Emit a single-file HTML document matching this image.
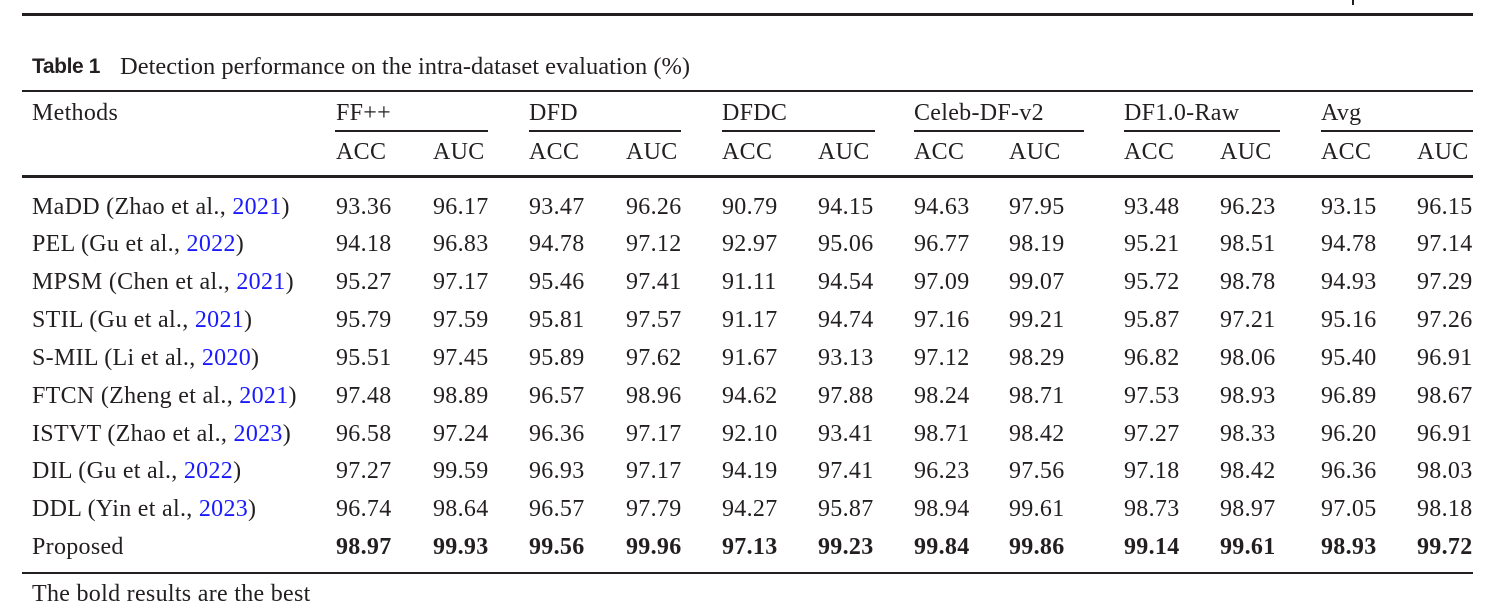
<!DOCTYPE html>
<html><head><meta charset="utf-8"><style>
html,body{margin:0;padding:0;background:#fff;}
body{width:1500px;height:610px;position:relative;overflow:hidden;font-family:"Liberation Serif",serif;color:#231f20;font-size:24px;}
.t{position:absolute;line-height:24px;white-space:nowrap;letter-spacing:0.3px;}
.r{position:absolute;background:#231f20;}
.b{font-weight:bold;}
a{color:#1a1aff;text-decoration:none;}
.cap{position:absolute;left:32px;top:55px;line-height:24px;white-space:nowrap;}
.cap b{position:absolute;left:0;top:0;font-family:"Liberation Sans",sans-serif;font-size:21px;letter-spacing:-0.4px;}
.cap span{position:absolute;left:88px;top:0;font-size:24.5px;}
</style></head><body>
<div class="r" style="left:22px;top:13px;width:1451px;height:3px"></div>
<div class="r" style="left:1352px;top:0;width:2px;height:5px"></div>
<div class="cap"><b>Table 1</b><span>Detection performance on the intra-dataset evaluation (%)</span></div>
<div class="r" style="left:22px;top:90px;width:1451px;height:1.5px"></div>
<div class="t" style="left:32px;top:101px">Methods</div>
<div class="t" style="left:336px;top:101px">FF++</div>
<div class="t" style="left:529px;top:101px">DFD</div>
<div class="t" style="left:722px;top:101px">DFDC</div>
<div class="t" style="left:914px;top:101px">Celeb-DF-v2</div>
<div class="t" style="left:1124px;top:101px">DF1.0-Raw</div>
<div class="t" style="left:1321px;top:101px">Avg</div>
<div class="r" style="left:335px;top:130px;width:153px;height:1.5px"></div>
<div class="r" style="left:529px;top:130px;width:152px;height:1.5px"></div>
<div class="r" style="left:722px;top:130px;width:153px;height:1.5px"></div>
<div class="r" style="left:914px;top:130px;width:170px;height:1.5px"></div>
<div class="r" style="left:1124px;top:130px;width:156px;height:1.5px"></div>
<div class="r" style="left:1321px;top:130px;width:152px;height:1.5px"></div>
<div class="t" style="left:336px;top:140px">ACC</div><div class="t" style="left:433px;top:140px">AUC</div>
<div class="t" style="left:529px;top:140px">ACC</div><div class="t" style="left:626px;top:140px">AUC</div>
<div class="t" style="left:722px;top:140px">ACC</div><div class="t" style="left:818px;top:140px">AUC</div>
<div class="t" style="left:914px;top:140px">ACC</div><div class="t" style="left:1009px;top:140px">AUC</div>
<div class="t" style="left:1124px;top:140px">ACC</div><div class="t" style="left:1220px;top:140px">AUC</div>
<div class="t" style="left:1321px;top:140px">ACC</div><div class="t" style="left:1417px;top:140px">AUC</div>
<div class="r" style="left:22px;top:175px;width:1451px;height:3px"></div>

<div class="t" style="left:32px;top:195px">MaDD (Zhao et al., <a>2021</a>)</div>
<div class="t" style="left:336px;top:195px">93.36</div><div class="t" style="left:433px;top:195px">96.17</div><div class="t" style="left:529px;top:195px">93.47</div><div class="t" style="left:626px;top:195px">96.26</div><div class="t" style="left:722px;top:195px">90.79</div><div class="t" style="left:818px;top:195px">94.15</div><div class="t" style="left:914px;top:195px">94.63</div><div class="t" style="left:1009px;top:195px">97.95</div><div class="t" style="left:1124px;top:195px">93.48</div><div class="t" style="left:1220px;top:195px">96.23</div><div class="t" style="left:1321px;top:195px">93.15</div><div class="t" style="left:1417px;top:195px">96.15</div>

<div class="t" style="left:32px;top:232px">PEL (Gu et al., <a>2022</a>)</div>
<div class="t" style="left:336px;top:232px">94.18</div><div class="t" style="left:433px;top:232px">96.83</div><div class="t" style="left:529px;top:232px">94.78</div><div class="t" style="left:626px;top:232px">97.12</div><div class="t" style="left:722px;top:232px">92.97</div><div class="t" style="left:818px;top:232px">95.06</div><div class="t" style="left:914px;top:232px">96.77</div><div class="t" style="left:1009px;top:232px">98.19</div><div class="t" style="left:1124px;top:232px">95.21</div><div class="t" style="left:1220px;top:232px">98.51</div><div class="t" style="left:1321px;top:232px">94.78</div><div class="t" style="left:1417px;top:232px">97.14</div>

<div class="t" style="left:32px;top:270px">MPSM (Chen et al., <a>2021</a>)</div>
<div class="t" style="left:336px;top:270px">95.27</div><div class="t" style="left:433px;top:270px">97.17</div><div class="t" style="left:529px;top:270px">95.46</div><div class="t" style="left:626px;top:270px">97.41</div><div class="t" style="left:722px;top:270px">91.11</div><div class="t" style="left:818px;top:270px">94.54</div><div class="t" style="left:914px;top:270px">97.09</div><div class="t" style="left:1009px;top:270px">99.07</div><div class="t" style="left:1124px;top:270px">95.72</div><div class="t" style="left:1220px;top:270px">98.78</div><div class="t" style="left:1321px;top:270px">94.93</div><div class="t" style="left:1417px;top:270px">97.29</div>

<div class="t" style="left:32px;top:308px">STIL (Gu et al., <a>2021</a>)</div>
<div class="t" style="left:336px;top:308px">95.79</div><div class="t" style="left:433px;top:308px">97.59</div><div class="t" style="left:529px;top:308px">95.81</div><div class="t" style="left:626px;top:308px">97.57</div><div class="t" style="left:722px;top:308px">91.17</div><div class="t" style="left:818px;top:308px">94.74</div><div class="t" style="left:914px;top:308px">97.16</div><div class="t" style="left:1009px;top:308px">99.21</div><div class="t" style="left:1124px;top:308px">95.87</div><div class="t" style="left:1220px;top:308px">97.21</div><div class="t" style="left:1321px;top:308px">95.16</div><div class="t" style="left:1417px;top:308px">97.26</div>

<div class="t" style="left:32px;top:346px">S-MIL (Li et al., <a>2020</a>)</div>
<div class="t" style="left:336px;top:346px">95.51</div><div class="t" style="left:433px;top:346px">97.45</div><div class="t" style="left:529px;top:346px">95.89</div><div class="t" style="left:626px;top:346px">97.62</div><div class="t" style="left:722px;top:346px">91.67</div><div class="t" style="left:818px;top:346px">93.13</div><div class="t" style="left:914px;top:346px">97.12</div><div class="t" style="left:1009px;top:346px">98.29</div><div class="t" style="left:1124px;top:346px">96.82</div><div class="t" style="left:1220px;top:346px">98.06</div><div class="t" style="left:1321px;top:346px">95.40</div><div class="t" style="left:1417px;top:346px">96.91</div>

<div class="t" style="left:32px;top:384px">FTCN (Zheng et al., <a>2021</a>)</div>
<div class="t" style="left:336px;top:384px">97.48</div><div class="t" style="left:433px;top:384px">98.89</div><div class="t" style="left:529px;top:384px">96.57</div><div class="t" style="left:626px;top:384px">98.96</div><div class="t" style="left:722px;top:384px">94.62</div><div class="t" style="left:818px;top:384px">97.88</div><div class="t" style="left:914px;top:384px">98.24</div><div class="t" style="left:1009px;top:384px">98.71</div><div class="t" style="left:1124px;top:384px">97.53</div><div class="t" style="left:1220px;top:384px">98.93</div><div class="t" style="left:1321px;top:384px">96.89</div><div class="t" style="left:1417px;top:384px">98.67</div>

<div class="t" style="left:32px;top:422px">ISTVT (Zhao et al., <a>2023</a>)</div>
<div class="t" style="left:336px;top:422px">96.58</div><div class="t" style="left:433px;top:422px">97.24</div><div class="t" style="left:529px;top:422px">96.36</div><div class="t" style="left:626px;top:422px">97.17</div><div class="t" style="left:722px;top:422px">92.10</div><div class="t" style="left:818px;top:422px">93.41</div><div class="t" style="left:914px;top:422px">98.71</div><div class="t" style="left:1009px;top:422px">98.42</div><div class="t" style="left:1124px;top:422px">97.27</div><div class="t" style="left:1220px;top:422px">98.33</div><div class="t" style="left:1321px;top:422px">96.20</div><div class="t" style="left:1417px;top:422px">96.91</div>

<div class="t" style="left:32px;top:459px">DIL (Gu et al., <a>2022</a>)</div>
<div class="t" style="left:336px;top:459px">97.27</div><div class="t" style="left:433px;top:459px">99.59</div><div class="t" style="left:529px;top:459px">96.93</div><div class="t" style="left:626px;top:459px">97.17</div><div class="t" style="left:722px;top:459px">94.19</div><div class="t" style="left:818px;top:459px">97.41</div><div class="t" style="left:914px;top:459px">96.23</div><div class="t" style="left:1009px;top:459px">97.56</div><div class="t" style="left:1124px;top:459px">97.18</div><div class="t" style="left:1220px;top:459px">98.42</div><div class="t" style="left:1321px;top:459px">96.36</div><div class="t" style="left:1417px;top:459px">98.03</div>

<div class="t" style="left:32px;top:497px">DDL (Yin et al., <a>2023</a>)</div>
<div class="t" style="left:336px;top:497px">96.74</div><div class="t" style="left:433px;top:497px">98.64</div><div class="t" style="left:529px;top:497px">96.57</div><div class="t" style="left:626px;top:497px">97.79</div><div class="t" style="left:722px;top:497px">94.27</div><div class="t" style="left:818px;top:497px">95.87</div><div class="t" style="left:914px;top:497px">98.94</div><div class="t" style="left:1009px;top:497px">99.61</div><div class="t" style="left:1124px;top:497px">98.73</div><div class="t" style="left:1220px;top:497px">98.97</div><div class="t" style="left:1321px;top:497px">97.05</div><div class="t" style="left:1417px;top:497px">98.18</div>

<div class="t" style="left:32px;top:535px">Proposed</div>
<div class="t b" style="left:336px;top:535px">98.97</div><div class="t b" style="left:433px;top:535px">99.93</div><div class="t b" style="left:529px;top:535px">99.56</div><div class="t b" style="left:626px;top:535px">99.96</div><div class="t b" style="left:722px;top:535px">97.13</div><div class="t b" style="left:818px;top:535px">99.23</div><div class="t b" style="left:914px;top:535px">99.84</div><div class="t b" style="left:1009px;top:535px">99.86</div><div class="t b" style="left:1124px;top:535px">99.14</div><div class="t b" style="left:1220px;top:535px">99.61</div><div class="t b" style="left:1321px;top:535px">98.93</div><div class="t b" style="left:1417px;top:535px">99.72</div>

<div class="r" style="left:22px;top:572px;width:1451px;height:1.5px"></div>
<div class="t" style="left:32px;top:582px">The bold results are the best</div>
</body></html>
